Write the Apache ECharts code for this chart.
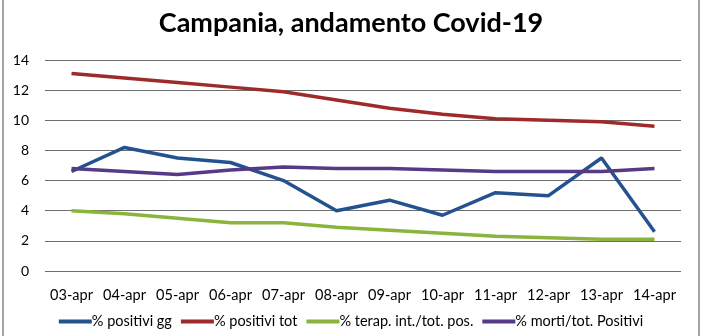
<!DOCTYPE html>
<html><head><meta charset="utf-8">
<script src="https://cdn.jsdelivr.net/npm/echarts@6/dist/echarts.min.js"></script>
<style>html,body{margin:0;padding:0;background:#fff}#c{width:702px;height:336px}</style>
</head><body><div id="c"></div>
<script>
const categories = ['03-apr','04-apr','05-apr','06-apr','07-apr','08-apr','09-apr','10-apr','11-apr','12-apr','13-apr','14-apr'];
const positiviGg = [6.6, 8.2, 7.5, 7.2, 6.0, 4.0, 4.7, 3.7, 5.2, 5.0, 7.5, 2.6];
const positiviTot = [13.1, 12.8, 12.5, 12.2, 11.9, 11.35, 10.8, 10.4, 10.1, 10.0, 9.9, 9.6];
const terapInt = [4.0, 3.8, 3.5, 3.2, 3.2, 2.9, 2.7, 2.5, 2.3, 2.2, 2.1, 2.1];
const morti = [6.8, 6.6, 6.4, 6.7, 6.9, 6.8, 6.8, 6.7, 6.6, 6.6, 6.6, 6.8];
const seriesNames = ['% positivi gg', '% positivi tot', '% terap. int./tot. pos.', '% morti/tot. Positivi'];
const yTicks = [0, 2, 4, 6, 8, 10, 12, 14];

const colors = ['#24528f', '#9e2a2b', '#8ab43c', '#563a86'];
const font = 'Lato, "Open Sans", sans-serif';
const chart = echarts.init(document.getElementById('c'));
const mk = (name, data, i) => ({
  name, type: 'line', data, symbol: 'none', smooth: false,
  lineStyle: { width: 3.5, color: colors[i] }, itemStyle: { color: colors[i] }
});
chart.setOption({
  animation: false,
  title: {
    text: 'Campania, andamento Covid-19', left: 'center', top: 5,
    textStyle: { fontFamily: font, fontWeight: 'bold', fontSize: 27, color: '#000' }
  },
  graphic: [{ type: 'rect', shape: { x: 3, y: -5, width: 696, height: 346 },
    style: { fill: 'none', stroke: '#888', lineWidth: 1.5 }, silent: true }],
  legend: {
    bottom: 2, left: 'center', itemWidth: 33, itemHeight: 4, itemGap: 9,
    icon: 'rect',
    textStyle: { fontFamily: font, fontSize: 14.5, color: '#000', padding: [0,0,0,-5] },
    data: seriesNames
  },
  grid: { left: 45, right: 21, top: 60, bottom: 65 },
  xAxis: {
    type: 'category', data: categories, boundaryGap: true,
    axisLine: { show: false }, axisTick: { show: false },
    axisLabel: { interval: 0, fontFamily: font, fontSize: 14.5, color: '#000', margin: 17 }
  },
  yAxis: {
    type: 'value', min: yTicks[0], max: yTicks[yTicks.length - 1], interval: 2,
    axisLine: { show: false }, axisTick: { show: false },
    axisLabel: { fontFamily: font, fontSize: 14, color: '#000', margin: 16, align: 'right' },
    splitLine: { lineStyle: { color: '#6e6e6e', width: 1.2 } }
  },
  series: [mk(seriesNames[0], positiviGg, 0), mk(seriesNames[1], positiviTot, 1),
           mk(seriesNames[2], terapInt, 2), mk(seriesNames[3], morti, 3)]
});
</script></body></html>
